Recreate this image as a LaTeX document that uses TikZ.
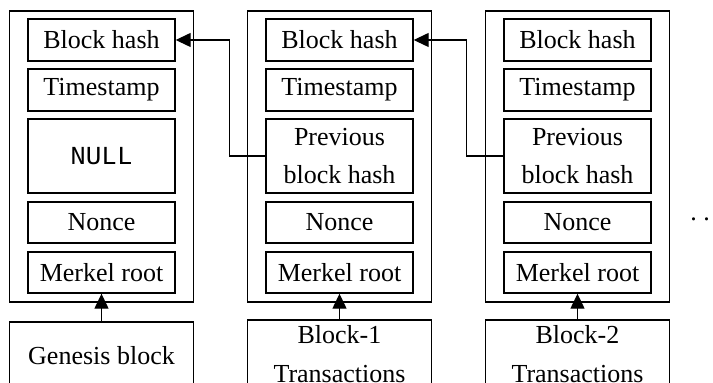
\documentclass[tikz,border=0pt]{standalone}
\usepackage{fontspec}
\setmainfont{Liberation Serif}
\setmonofont{Liberation Mono}
\usetikzlibrary{arrows.meta}
\begin{document}
\begin{tikzpicture}[x=0.5pt,y=-0.5pt,
  field/.style={draw, line width=0.7pt, inner sep=0pt, align=center, minimum width=73.5pt,
    font=\fontsize{13}{19.2}\selectfont},
  outer/.style={draw, line width=0.8pt, inner sep=0pt, minimum width=92pt, minimum height=145.5pt},
  txbox/.style={draw, line width=0.8pt, inner sep=0pt, align=center, minimum width=92pt, minimum height=34pt,
    font=\fontsize{13}{19.2}\selectfont},
  arr/.style={line width=0.65pt, -{Triangle[length=7.5pt,width=7pt]}}]
\useasboundingbox (0,0) rectangle (713,383);
% outer block frames
\foreach \i/\cx in {0/101.5,1/339.5,2/577.5}{
  \node[outer] (blk\i) at (\cx,156.5) {};
}
% block 0
\node[field, minimum height=21pt] (h0) at (101.5,40) {Block hash};
\node[field, minimum height=21pt] (t0) at (101.5,90) {Timestamp};
\node[field, minimum height=37pt] (p0) at (101.5,156) {\texttt{NULL}};
\node[field, minimum height=20.5pt] (n0) at (101.5,222.5) {Nonce};
\node[field, minimum height=20.5pt] (m0) at (101.5,272.5) {Merkel root};
% block 1
\node[field, minimum height=21pt] (h1) at (339.5,40) {Block hash};
\node[field, minimum height=21pt] (t1) at (339.5,90) {Timestamp};
\node[field, minimum height=37pt] (p1) at (339.5,156) {Previous\\block hash};
\node[field, minimum height=20.5pt] (n1) at (339.5,222.5) {Nonce};
\node[field, minimum height=20.5pt] (m1) at (339.5,272.5) {Merkel root};
% block 2
\node[field, minimum height=21pt] (h2) at (577.5,40) {Block hash};
\node[field, minimum height=21pt] (t2) at (577.5,90) {Timestamp};
\node[field, minimum height=37pt] (p2) at (577.5,156) {Previous\\block hash};
\node[field, minimum height=20.5pt] (n2) at (577.5,222.5) {Nonce};
\node[field, minimum height=20.5pt] (m2) at (577.5,272.5) {Merkel root};
% transaction boxes
\node[txbox] (tx0) at (101.5,356) {Genesis block};
\node[txbox] (tx1) at (339.5,354) {Block-1\\Transactions};
\node[txbox] (tx2) at (577.5,354) {Block-2\\Transactions};
% arrows
\foreach \i in {0,1,2}{ \draw[arr] (tx\i.north) -- (m\i.south); }
\draw[arr] (p1.west) -- ++(-36,0) |- (h0.east);
\draw[arr] (p2.west) -- ++(-37,0) |- (h1.east);
% continuation dots
\node[anchor=base west, inner sep=0pt, font=\fontsize{13}{19.2}\selectfont] (dots) at (690,221) {.~.~.};
\end{tikzpicture}
\end{document}
